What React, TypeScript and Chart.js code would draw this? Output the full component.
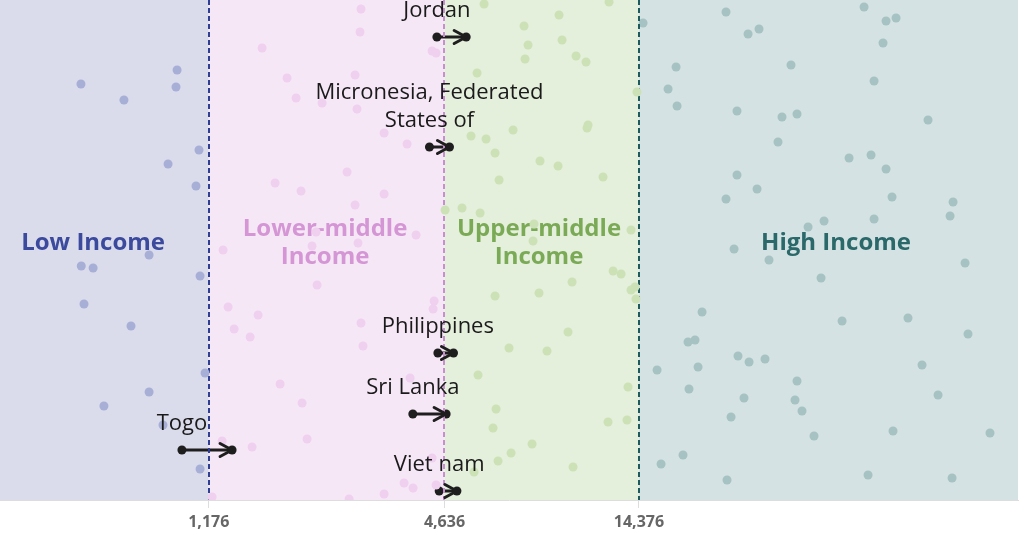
import { useEffect, useRef } from 'react';
import { Chart, registerables } from 'chart.js';

Chart.register(...registerables);

const FONT = "'Open Sans', 'Noto Sans', sans-serif";

// GNI per capita thresholds between income groups (US$)
const incomeThresholds = [1176, 4636, 14376];
const axisMinGni = 349;
const axisMaxGni = 130500;

const incomeGroups = ['Low Income', 'Lower-middle\nIncome', 'Upper-middle\nIncome', 'High Income'];
const groupLabelGni = [600, 2314, 8037, 45270];
const groupLabelRow = 51.6;

// Countries per group: GNI per capita and a vertical jitter row (0-100)
const lowIncomeGni = [559, 718, 978, 972, 1111, 928, 1092, 831, 560, 600, 1118, 569, 748, 1151, 831, 639, 901, 1118];
const lowIncomeRow = [83.2, 80, 86, 82.6, 70, 67.2, 62.8, 49, 46.8, 46.4, 44.8, 39.2, 34.8, 25.4, 21.6, 18.8, 15, 6.2];

const lowerMiddleGni = [2852, 2836, 1604, 4313, 4415, 1855, 2755, 1955, 2274, 2787, 3262, 3729, 2630, 1730, 2012, 3262, 2755, 3929, 2196, 2145, 2803, 1278, 2209, 4364, 4339, 1316, 1567, 1363, 1496, 2852, 2886, 3795, 1781, 2024, 2084, 1513, 1271, 4313, 3664, 3861, 3262, 2661, 4415, 1199];
const lowerMiddleRow = [98.2, 93.6, 90.4, 89.8, 89.4, 84.4, 85, 80.4, 79.4, 78.2, 73.4, 71.2, 65.6, 63.4, 61.8, 61.2, 59, 53, 53.6, 50.8, 51.4, 50, 43, 39.8, 38.2, 38.6, 37, 34.2, 32.6, 35.4, 30.8, 24.4, 23.2, 19.4, 12.2, 10.6, 11.8, 8.4, 3.4, 2.4, 1.2, 0.2, 3, 0.6];

const upperMiddleGni = [5838, 12080, 9030, 7366, 9190, 7540, 7409, 9970, 10566, 5604, 14213, 6911, 5411, 5906, 10690, 10629, 6223, 8084, 8979, 11665, 6370, 4652, 5135, 5704, 7806, 7762, 13728, 12369, 12957, 9741, 6223, 8037, 13728, 14050, 14131, 9515, 6750, 8420, 5636, 13490, 6259, 6150, 12008, 13413, 7718, 6830, 6332, 5507, 9797];
const upperMiddleRow = [99.2, 99.6, 97, 94.8, 92, 91, 88.2, 88.8, 87.6, 85.4, 81.6, 74, 72.8, 72.2, 75, 74.4, 69.4, 67.8, 66.8, 64.6, 64, 58, 58.4, 57.4, 55.2, 51.8, 54, 45.8, 45.2, 43.6, 40.8, 41.4, 42, 42.6, 40.2, 33.6, 30.4, 29.8, 25, 22.6, 18.2, 14.4, 15.6, 16, 11.2, 9.4, 7.8, 5.6, 6.6];

const highIncomeGni = [14723, 17843, 17031, 17946, 23859, 27125, 28913, 53280, 60550, 64180, 59500, 34830, 56470, 25436, 33050, 36070, 77310, 32290, 48830, 55490, 60550, 25436, 28582, 23859, 62700, 89430, 87880, 38460, 42210, 56470, 25003, 30645, 95900, 41480, 20756, 19127, 19923, 20277, 19237, 25588, 27288, 29940, 36070, 26494, 35650, 37130, 24569, 39820, 46880, 68800, 97570, 74660, 81950, 63060, 110880, 18580, 24002, 54530, 88920, 15973, 16349];
const highIncomeRow = [95.4, 86.6, 82.2, 78.8, 97.6, 93.2, 94.2, 98.6, 95.8, 96.4, 91.4, 87, 83.8, 77.8, 76.6, 77.2, 76, 71.6, 68.4, 69, 66.2, 65, 62.2, 60.2, 60.6, 59.6, 56.8, 54.6, 55.8, 56.2, 50.2, 48, 47.4, 44.4, 37.6, 31.6, 32, 26.6, 22.2, 28.8, 27.6, 28.2, 23.8, 20.4, 20, 17.8, 16.6, 12.8, 35.8, 36.4, 33.2, 27, 21, 13.8, 13.4, 9, 4, 5, 4.4, 26, 7.2];

// Highlighted countries moving between years
const movers = ['Jordan', 'Micronesia, Federated\nStates of', 'Philippines', 'Sri Lanka', 'Togo', 'Viet nam'];
const moverGniFrom = [4436, 4248, 4461, 3856, 1006, 4495];
const moverGniTo = [5260, 4773, 4886, 4681, 1347, 4984];
const moverRow = [92.6, 70.6, 29.4, 17.2, 10, 1.8];

const bandFills = ['#dadcec', '#f6e7f7', '#e4efdc', '#d5e2e3'];
const dotColors = ['#a8afd6', '#efd0ef', '#cce2b6', '#a6c2c3'];
const labelColors = ['#3b4a9c', '#d496d4', '#7aaa55', '#2a686a'];
const dividerColors = ['#2f3f95', '#c88fd0', '#1c5a5c'];
const ARROW = '#1e1e1e';

const groupGni = [lowIncomeGni, lowerMiddleGni, upperMiddleGni, highIncomeGni];
const groupRow = [lowIncomeRow, lowerMiddleRow, upperMiddleRow, highIncomeRow];

const bandsPlugin = {
  id: 'incomeBands',
  beforeDraw(chart: any) {
    const { ctx, chartArea, scales } = chart;
    const { top, bottom, left, right } = chartArea;
    const edges = [left, ...incomeThresholds.map((v) => scales.x.getPixelForValue(v)), right];
    ctx.save();
    for (let i = 0; i < bandFills.length; i++) {
      ctx.fillStyle = bandFills[i];
      ctx.fillRect(edges[i], top, edges[i + 1] - edges[i], bottom - top);
    }
    ctx.restore();
  },
  beforeDatasetsDraw(chart: any) {
    const { ctx, scales } = chart;
    ctx.save();
    ctx.font = `bold 24px ${FONT}`;
    ctx.textAlign = 'center';
    ctx.textBaseline = 'middle';
    incomeGroups.forEach((name, i) => {
      const lines = name.split('\n');
      const cx = scales.x.getPixelForValue(groupLabelGni[i]);
      const cy = scales.y.getPixelForValue(groupLabelRow) + 1;
      const lh = 28;
      ctx.fillStyle = labelColors[i];
      lines.forEach((line, j) => {
        ctx.fillText(line, cx, cy + (j - (lines.length - 1) / 2) * lh);
      });
    });
    ctx.restore();
  },
  afterDatasetDraw(chart: any, args: any) {
    if (args.index !== groupGni.length - 1) return;
    const { ctx, chartArea, scales } = chart;
    ctx.save();
    ctx.lineWidth = 2;
    ctx.setLineDash([5, 3]);
    incomeThresholds.forEach((v, i) => {
      const x = Math.round(scales.x.getPixelForValue(v));
      ctx.strokeStyle = dividerColors[i];
      ctx.beginPath();
      ctx.moveTo(x, chartArea.top);
      ctx.lineTo(x, chartArea.bottom);
      ctx.stroke();
    });
    ctx.restore();
  },
  afterDatasetsDraw(chart: any) {
    const { ctx } = chart;
    ctx.save();
    movers.forEach((name, i) => {
      const meta = chart.getDatasetMeta(groupGni.length + i);
      const start = meta.data[0];
      const end = meta.data[1];
      // arrowhead
      ctx.strokeStyle = ARROW;
      ctx.lineWidth = 3;
      ctx.lineJoin = 'round';
      ctx.lineCap = 'round';
      ctx.beginPath();
      ctx.moveTo(end.x - 12, end.y - 6.5);
      ctx.lineTo(end.x, end.y);
      ctx.lineTo(end.x - 12, end.y + 6.5);
      ctx.stroke();
      // name above the starting point
      ctx.fillStyle = '#1a1a1a';
      ctx.font = `22px ${FONT}`;
      ctx.textAlign = 'center';
      ctx.textBaseline = 'alphabetic';
      const lines = name.split('\n');
      lines.forEach((line, j) => {
        const off = (lines.length - 1 - j) * 28;
        ctx.fillText(line, start.x, start.y - 20 - off);
      });
    });
    ctx.restore();
  },
};

export default function App() {
  const ref = useRef<HTMLCanvasElement>(null);

  useEffect(() => {
    const canvas = ref.current;
    if (!canvas) return;

    const dotSets = groupGni.map((vals, g) => ({
      type: 'scatter' as const,
      data: vals.map((v, k) => ({ x: v, y: groupRow[g][k] })),
      backgroundColor: dotColors[g],
      borderWidth: 0,
      pointRadius: 4.5,
      pointHoverRadius: 4.5,
    }));

    const arrowSets = movers.map((_, i) => ({
      type: 'line' as const,
      data: [
        { x: moverGniFrom[i], y: moverRow[i] },
        { x: moverGniTo[i], y: moverRow[i] },
      ],
      borderColor: ARROW,
      borderWidth: 3,
      backgroundColor: ARROW,
      pointBackgroundColor: ARROW,
      pointBorderWidth: 0,
      pointRadius: 4.5,
      pointHoverRadius: 4.5,
      showLine: true,
      fill: false,
    }));

    const chart = new Chart(canvas, {
      type: 'scatter',
      data: { datasets: [...dotSets, ...arrowSets] as any },
      options: {
        responsive: false,
        animation: false,
        devicePixelRatio: 1,
        layout: { autoPadding: false, padding: { left: 0, right: 2, top: 0, bottom: 0 } },
        plugins: {
          legend: { display: false },
          tooltip: { enabled: false },
        },
        scales: {
          x: {
            type: 'logarithmic',
            min: axisMinGni,
            max: axisMaxGni,
            afterBuildTicks: (scale: any) => {
              scale.ticks = incomeThresholds.map((v) => ({ value: v }));
            },
            afterFit: (scale: any) => {
              scale.height = 45;
            },
            ticks: {
              autoSkip: false,
              maxRotation: 0,
              padding: 5,
              color: '#666',
              font: { family: FONT, size: 16, weight: 'bold' },
              callback: (v: any) => Number(v).toLocaleString('en-US'),
            },
            grid: { drawOnChartArea: false, tickLength: 8, color: '#dddddd' },
            border: { color: '#dddddd' },
          },
          y: { min: 0, max: 100, display: false },
        },
      } as any,
      plugins: [bandsPlugin],
    });

    return () => chart.destroy();
  }, []);

  return (
    <div style={{ position: 'absolute', left: 0, top: 0, width: 1020, height: 545, background: '#fff' }}>
      <canvas ref={ref} width={1020} height={545} style={{ display: 'block' }} />
    </div>
  );
}
